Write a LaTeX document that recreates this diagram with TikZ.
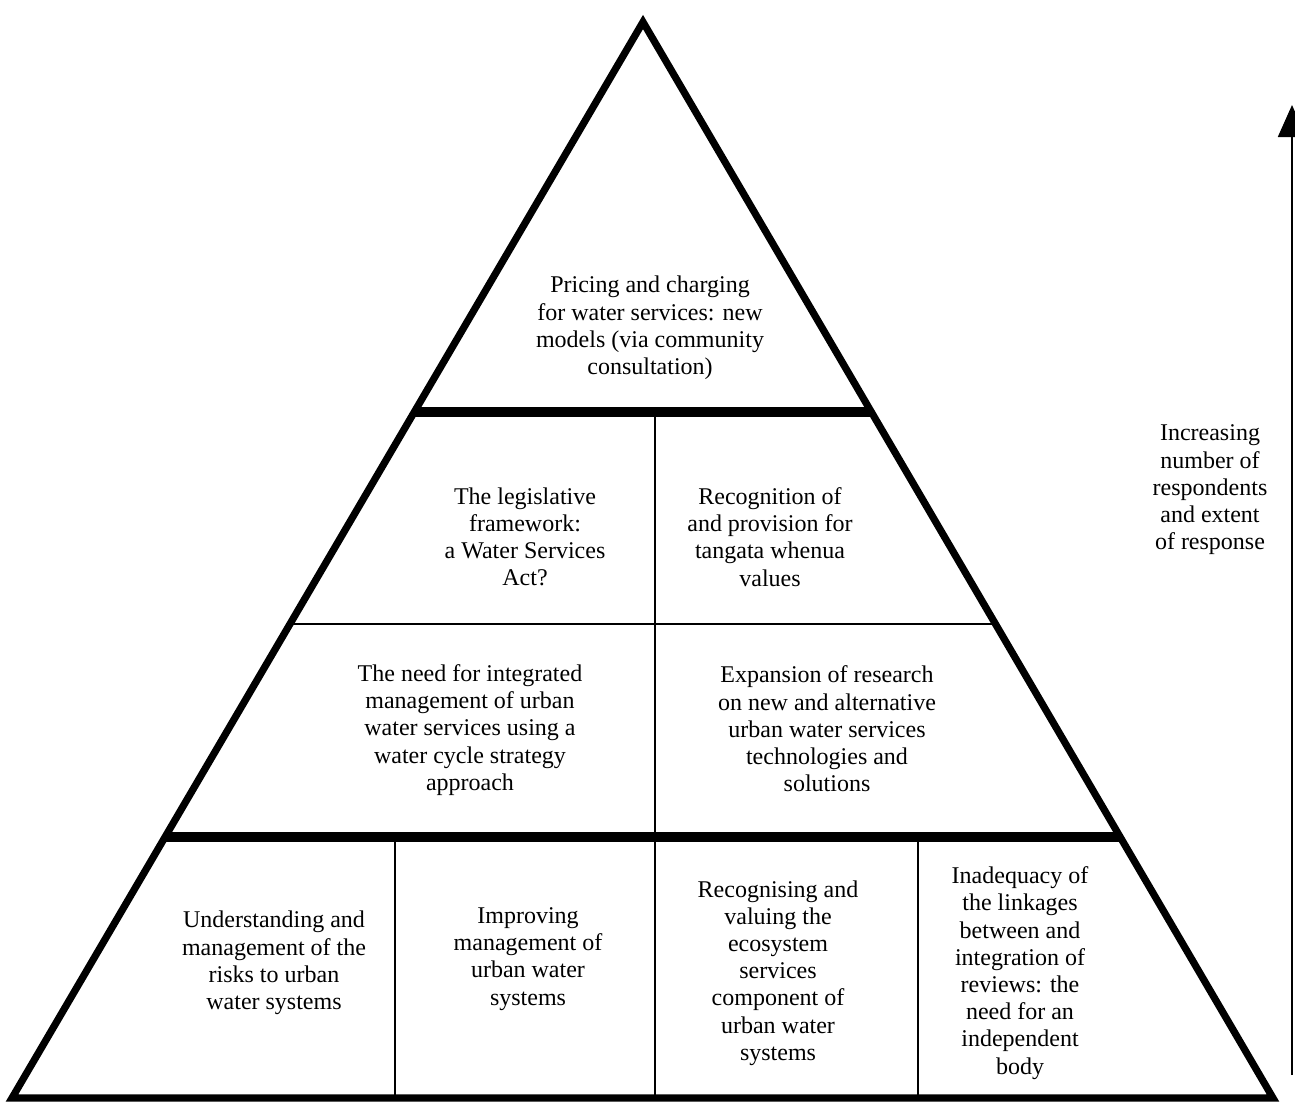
\documentclass[tikz,border=0pt]{standalone}
\usepackage{fontspec}
\setmainfont{Liberation Serif}
\usetikzlibrary{calc,arrows.meta}
\begin{document}
\begin{tikzpicture}[x=0.5pt,y=-0.5pt,
  outline/.style={line width=3.6pt,line join=miter},
  thickrule/.style={line width=4.6pt},
  thinrule/.style={line width=1pt},
  label/.style={align=center,font=\fontsize{12}{13.6}\selectfont,inner sep=0pt},
  upar/.style={line width=1pt,-{Triangle[length=16pt,width=14pt]}}]
\useasboundingbox (0,0) rectangle (1295,1103);
\coordinate (A) at (643,22);
\coordinate (L) at (12,1098);
\coordinate (R) at (1273,1098);
\draw[outline] (A) -- (L) -- (R) -- cycle;
% horizontal rules
\coordinate (l1) at ($(A)!0.3625!(L)$);
\coordinate (r1) at ($(A)!0.3625!(R)$);
\coordinate (l2) at ($(A)!0.5595!(L)$);
\coordinate (r2) at ($(A)!0.5595!(R)$);
\coordinate (l3) at ($(A)!0.7574!(L)$);
\coordinate (r3) at ($(A)!0.7574!(R)$);
\draw[thinrule] (l2) -- (r2);
\draw[thinrule] (655,412) -- (655,1098);
\draw[thinrule] (395,837) -- (395,1098);
\draw[thinrule] (918,837) -- (918,1098);
\draw[thickrule] (l1) -- (r1);
\draw[thickrule] (l3) -- (r3);
% texts
\node[label] (t1) at (650,328) {Pricing and charging\\for water services: new\\models (via community\\consultation)};
\node[label] (t2) at (525,537) {The legislative\\framework:\\a Water Services\\Act?};
\node[label] (t3) at (770,537) {Recognition of\\and provision for\\tangata whenua\\values};
\node[label] (t4) at (470,730) {The need for integrated\\management of urban\\water services using a\\water cycle strategy\\approach};
\node[label] (t5) at (827,729) {Expansion of research\\on new and alternative\\urban water services\\technologies and\\solutions};
\node[label] (t6) at (274,963) {Understanding and\\management of the\\risks to urban\\water systems};
\node[label] (t7) at (528,959) {Improving\\management of\\urban water\\systems};
\node[label] (t8) at (778,973) {Recognising and\\valuing the\\ecosystem\\services\\component of\\urban water\\systems};
\node[label] (t9) at (1020,973) {Inadequacy of\\the linkages\\between and\\integration of\\reviews: the\\need for an\\independent\\body};
\node[label] (t10) at (1210,490) {Increasing\\number of\\respondents\\and extent\\of response};
% arrow
\coordinate (ab) at (1292,1075);
\coordinate (at) at (1292,105);
\draw[upar] (ab) -- (at);
\end{tikzpicture}
\end{document}
